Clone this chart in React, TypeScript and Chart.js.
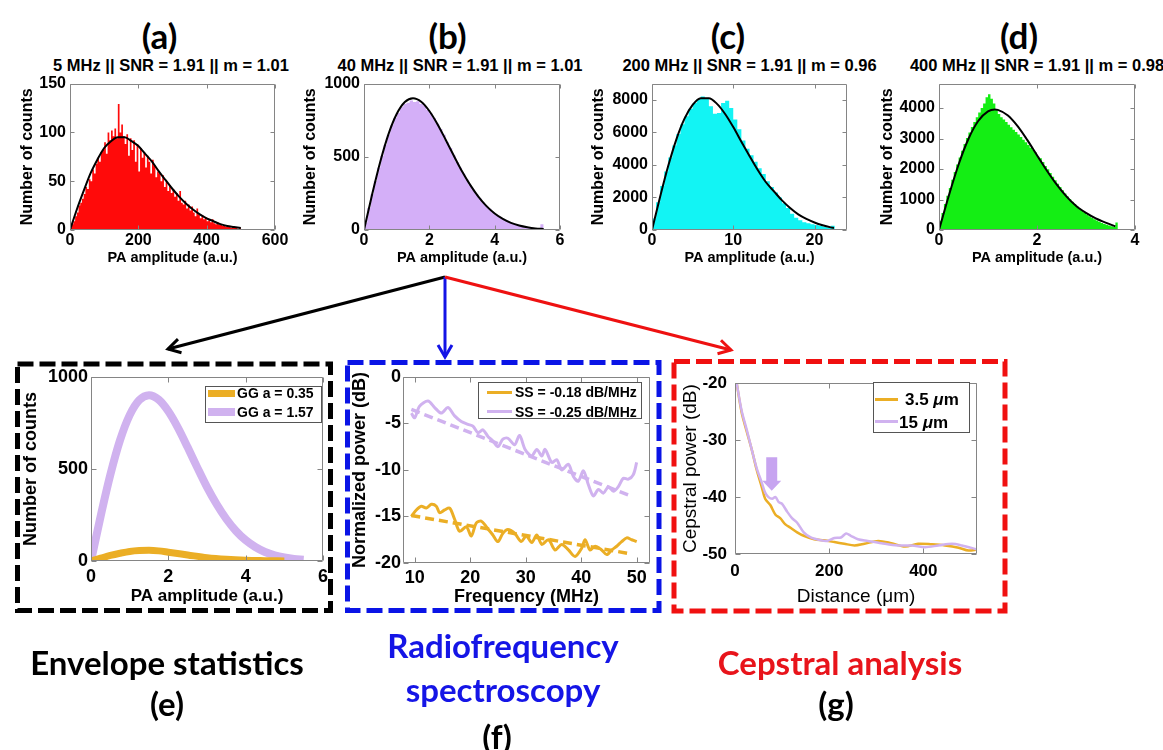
import React, { useEffect, useRef } from "react";
import { Chart, registerables } from "chart.js";

Chart.register(...registerables);

const SANS = '"Liberation Sans", Arial, Helvetica, sans-serif';
const DISPLAY = 'Lato, "Open Sans", "Noto Sans", sans-serif';
Chart.defaults.font.family = SANS;
Chart.defaults.color = "#000";

// ---------------- colours ----------------
const RED = "#FF0A0A";
const LAVENDER_HIST = "#D4AFF8";
const CYAN = "#12F4F4";
const GREEN = "#14EE14";
const ORANGE = "#EBAE25";
const PURPLE = "#D0B2EF";
const BOX_GREY = "#858585";

// ---------------- (a) 5 MHz ----------------
const A_BIN_START = 0;
const A_BIN_WIDTH = 5;
const A_COUNTS = [2, 6, 9, 14, 18, 25, 28, 32, 37, 44, 42, 52, 50, 62, 58, 68, 74, 70, 80, 82, 90, 78, 100, 92, 102, 96, 104, 94, 129, 100, 108, 96, 88, 98, 76, 94, 82, 92, 70, 88, 60, 84, 74, 80, 64, 76, 70, 58, 72, 66, 54, 60, 58, 50, 56, 44, 50, 40, 46, 38, 42, 34, 38, 30, 40, 28, 26, 30, 22, 26, 20, 24, 18, 14, 22, 16, 12, 15, 11, 13, 9, 10, 8, 11, 7, 6, 8, 5, 6, 4, 5, 3, 4, 3, 2, 3, 2, 2, 1, 2, 1, 1, 1, 1, 0];
const A_FIT_X = [0, 20, 40, 60, 80, 100, 120, 140, 160, 180, 200, 220, 240, 260, 280, 300, 320, 340, 360, 380, 400, 420, 440, 460, 480, 500];
const A_FIT_Y = [0, 21, 40, 58, 72, 84, 91, 95, 95, 91, 86, 78, 70, 60, 51, 42, 34, 27, 21, 16, 12, 9, 6, 4, 3, 2];
const A_X_TICKS = [0, 200, 400, 600];
const A_Y_TICKS = [0, 50, 100, 150];

// ---------------- (b) 40 MHz ----------------
const B_BIN_START = 0;
const B_BIN_WIDTH = 0.1;
const B_COUNTS = [50, 150, 245, 335, 425, 505, 580, 650, 715, 765, 800, 840, 860, 870, 885, 875, 880, 860, 850, 820, 795, 765, 725, 690, 650, 600, 560, 510, 465, 425, 385, 345, 305, 275, 245, 215, 188, 165, 145, 122, 105, 90, 76, 65, 55, 46, 38, 32, 26, 22, 18, 15, 12, 10, 40];
const B_FIT_X = [0, 0.25, 0.5, 0.75, 1, 1.25, 1.5, 1.75, 2, 2.25, 2.5, 2.75, 3, 3.25, 3.5, 3.75, 4, 4.25, 4.5, 4.75, 5, 5.25, 5.5];
const B_FIT_Y = [0, 244, 468, 655, 792, 874, 900, 876, 813, 723, 617, 507, 401, 308, 228, 163, 113, 76, 49, 31, 19, 11, 7];
const B_X_TICKS = [0, 2, 4, 6];
const B_Y_TICKS = [0, 500, 1000];

// ---------------- (c) 200 MHz ----------------
const C_BIN_START = 0;
const C_BIN_WIDTH = 0.5;
const C_COUNTS = [700, 1700, 2700, 3600, 4450, 5200, 5900, 6500, 7000, 7450, 7800, 8050, 8200, 8050, 7600, 7150, 7200, 7800, 7950, 7500, 6800, 6200, 5500, 5000, 4600, 4200, 3800, 3450, 3000, 2650, 2300, 2000, 1650, 1350, 1000, 750, 600, 480, 420, 360, 300, 250, 200, 160, 260];
const C_FIT_X = [0, 1, 2, 3, 4, 5, 6, 7, 8, 9, 10, 11, 12, 13, 14, 15, 16, 17, 18, 19, 20, 21, 22, 22.4];
const C_FIT_Y = [0, 2043, 3944, 5575, 6843, 7689, 8101, 8103, 7754, 7134, 6331, 5431, 4550, 3700, 2950, 2380, 1820, 1350, 960, 680, 460, 290, 160, 120];
const C_X_TICKS = [0, 10, 20];
const C_Y_TICKS = [0, 2000, 4000, 6000, 8000];

// ---------------- (d) 400 MHz ----------------
const D_BIN_START = 0;
const D_BIN_WIDTH = 0.05;
const D_COUNTS = [300, 560, 850, 1120, 1380, 1650, 1900, 2150, 2380, 2600, 2820, 3020, 3200, 3380, 3540, 3700, 3850, 4000, 4150, 4350, 4450, 4300, 4150, 3950, 3800, 3700, 3620, 3540, 3450, 3370, 3290, 3210, 3130, 3050, 2960, 2880, 2790, 2700, 2620, 2540, 2400, 2350, 2230, 2100, 1990, 1870, 1750, 1630, 1520, 1410, 1300, 1200, 1100, 1010, 930, 850, 770, 700, 630, 570, 510, 450, 400, 350, 310, 270, 230, 200, 170, 145, 120, 100, 250];
const D_FIT_X = [0, 0.2, 0.4, 0.6, 0.8, 1.0, 1.14, 1.2, 1.4, 1.6, 1.8, 2.0, 2.2, 2.4, 2.6, 2.8, 3.0, 3.2, 3.4, 3.6];
const D_FIT_Y = [0, 1125, 2149, 2984, 3573, 3888, 3950, 3939, 3762, 3414, 2956, 2453, 1953, 1495, 1102, 784, 560, 380, 240, 120];
const D_X_TICKS = [0, 2, 4];
const D_Y_TICKS = [0, 1000, 2000, 3000, 4000];

// ---------------- (e) envelope statistics ----------------
const E_LOW_X = [0, 0.25, 0.5, 0.75, 1, 1.25, 1.5, 1.75, 2, 2.5, 3, 3.5, 4, 4.5, 5];
const E_LOW_Y = [0, 15, 30, 42, 52, 57, 58, 55, 48, 33, 18, 9, 4, 2, 0.5];
const E_HIGH_X = B_FIT_X;
const E_HIGH_Y = B_FIT_Y;
const E_LABELS = ["GG a = 0.35", "GG a = 1.57"];
const E_X_TICKS = [0, 2, 4, 6];
const E_Y_TICKS = [0, 500, 1000];

// ---------------- (f) RF spectroscopy ----------------
const F_O_X = [9.4, 10.3, 11.2, 12.1, 13, 13.9, 14.5, 15.4, 16.3, 17.2, 18.1, 19.3, 20.2, 21.1, 22, 22.9, 24.1, 25, 25.9, 26.8, 28, 29.2, 30.1, 31.1, 32, 32.9, 34.1, 35.3, 36.5, 37.7, 38.9, 40.1, 40.7, 41.6, 42.5, 43.7, 44.6, 45.5, 46.4, 47.3, 48.2, 49.1, 50];
const F_O_Y = [-15, -14.3, -13.9, -14.1, -13.7, -13.9, -14.6, -14.3, -14.1, -15.3, -16.6, -16.1, -17.1, -15.7, -15.5, -16.1, -17, -17.7, -16.8, -16.4, -16.8, -17.7, -17.1, -17.8, -17, -18, -17.5, -18.6, -18, -18.6, -19.3, -18.4, -17.5, -18.6, -18.2, -18.6, -19.1, -18.6, -18.2, -17.7, -17.3, -17.5, -17.7];
const F_P_X = [9.4, 10, 10.9, 12.4, 13.6, 14.8, 16, 17.2, 18.4, 19.6, 20.5, 21.4, 22.3, 23.2, 24.1, 25, 25.9, 26.8, 28, 28.9, 29.9, 31.1, 32, 32.9, 33.5, 34.7, 35.6, 36.5, 37.7, 38.6, 39.5, 40.4, 41.3, 42.2, 43.1, 44, 44.9, 45.8, 46.7, 47.6, 48.5, 49.4, 50];
const F_P_Y = [-3.9, -4.4, -3.15, -2.6, -3.3, -3.9, -3.3, -4.2, -4.8, -5.1, -5.3, -6.0, -5.7, -6.4, -6.9, -7.5, -6.7, -6.6, -7.3, -6.3, -7.8, -8.5, -7.8, -8.5, -7.8, -9.2, -8.9, -10, -9.4, -10.7, -11.2, -10.1, -11.6, -12.8, -12.1, -12.5, -11.8, -12.3, -11.8, -10.9, -11, -10.5, -9.2];
const F_O_FIT_X = [9.4, 48.8];
const F_O_FIT_Y = [-14.9, -19.0];
const F_P_FIT_X = [9.4, 48.5];
const F_P_FIT_Y = [-3.5, -12.7];
const F_LABELS = ["SS = -0.18 dB/MHz", "SS = -0.25 dB/MHz"];
const F_X_TICKS = [10, 20, 30, 40, 50];
const F_Y_TICKS = [-20, -15, -10, -5, 0];

// ---------------- (g) cepstral analysis ----------------
const G_O_X = [3, 14, 25, 36, 46, 57, 64, 75, 86, 96, 107, 118, 132, 146, 168, 189, 211, 232, 254, 275, 304, 332, 361, 389, 418, 446, 475, 496, 514];
const G_O_Y = [-19.7, -25.1, -28.5, -31.8, -35.2, -38.3, -40.3, -41.4, -43.1, -43.7, -44.8, -45.4, -46.2, -46.8, -47.4, -47.6, -47.9, -48.2, -48.5, -48.2, -47.7, -48.1, -48.7, -48.2, -48.3, -48.5, -48.9, -49.4, -49.2];
const G_P_X = [3, 14, 25, 36, 46, 57, 64, 71, 79, 86, 93, 100, 111, 121, 132, 146, 161, 182, 196, 211, 225, 236, 246, 261, 282, 311, 346, 375, 404, 432, 461, 482, 514];
const G_P_Y = [-19.7, -24.8, -28.2, -31.8, -34.9, -37.5, -39.2, -40, -40.3, -40, -40.9, -41.2, -42.6, -43.7, -44.5, -46.2, -47.1, -47.6, -47.7, -47.2, -47.1, -46.4, -46.8, -47.4, -47.7, -48.1, -48.5, -48.5, -48.8, -48.5, -48.2, -48.5, -49.2];
const G_ARROW = { x: 78, from: -33, to: -38.9 };
const G_X_TICKS = [0, 200, 400];
const G_Y_TICKS = [-50, -40, -30, -20];

const TOP_TITLES = [
  "5 MHz || SNR = 1.91 || m = 1.01",
  "40 MHz || SNR = 1.91 || m = 1.01",
  "200 MHz || SNR = 1.91 || m = 0.96",
  "400 MHz || SNR = 1.91 || m = 0.98",
];

// ---------------- helpers ----------------
function pts(xs: number[], ys: number[]) {
  return xs.map((x, i) => ({ x, y: ys[i] }));
}
function histPts(start: number, width: number, counts: number[]) {
  const out = counts.map((c, i) => ({ x: start + i * width, y: c }));
  out.push({ x: start + counts.length * width, y: counts[counts.length - 1] });
  return out;
}
function histDataset(start: number, width: number, counts: number[], color: string) {
  return {
    data: histPts(start, width, counts),
    stepped: true,
    fill: "origin",
    backgroundColor: color,
    borderColor: color,
    borderWidth: 0,
    pointRadius: 0,
    order: 2,
  };
}
function fitDataset(xs: number[], ys: number[]) {
  return {
    data: pts(xs, ys),
    borderColor: "#000",
    borderWidth: 2,
    pointRadius: 0,
    fill: false,
    cubicInterpolationMode: "monotone",
    order: 1,
  };
}

function boxPlugin(color: string, len: number) {
  return {
    id: "matlabBox",
    afterDatasetsDraw(chart: any) {
      const { ctx, chartArea: a, scales } = chart;
      ctx.save();
      ctx.strokeStyle = color;
      ctx.lineWidth = 1;
      const l = Math.round(a.left) + 0.5;
      const r = Math.round(a.right) - 0.5;
      const t = Math.round(a.top) + 0.5;
      const b = Math.round(a.bottom) - 0.5;
      ctx.beginPath();
      ctx.rect(l, t, r - l, b - t);
      for (const tk of scales.x.ticks) {
        const px = Math.round(scales.x.getPixelForValue(tk.value)) + 0.5;
        ctx.moveTo(px, b);
        ctx.lineTo(px, b - len);
        ctx.moveTo(px, t);
        ctx.lineTo(px, t + len);
      }
      for (const tk of scales.y.ticks) {
        const py = Math.round(scales.y.getPixelForValue(tk.value)) + 0.5;
        ctx.moveTo(l, py);
        ctx.lineTo(l + len, py);
        ctx.moveTo(r, py);
        ctx.lineTo(r - len, py);
      }
      ctx.stroke();
      ctx.restore();
    },
  };
}

const arrowPlugin = {
  id: "gArrow",
  afterDatasetsDraw(chart: any) {
    const { ctx, scales } = chart;
    const px = scales.x.getPixelForValue(G_ARROW.x);
    const y0 = scales.y.getPixelForValue(G_ARROW.from);
    const y1 = scales.y.getPixelForValue(G_ARROW.to);
    const sw = 11;
    const hw = 19;
    const hh = 10;
    ctx.save();
    ctx.fillStyle = "#C7A4F0";
    ctx.beginPath();
    ctx.moveTo(px - sw / 2, y0);
    ctx.lineTo(px + sw / 2, y0);
    ctx.lineTo(px + sw / 2, y1 - hh);
    ctx.lineTo(px + hw / 2, y1 - hh);
    ctx.lineTo(px, y1);
    ctx.lineTo(px - hw / 2, y1 - hh);
    ctx.lineTo(px - sw / 2, y1 - hh);
    ctx.closePath();
    ctx.fill();
    ctx.restore();
  },
};

interface PanelSpec {
  plot: { L: number; T: number; R: number; B: number };
  yw: number;
  xh: number;
  pt?: number;
  pr?: number;
  xMin: number;
  xMax: number;
  yMin: number;
  yMax: number;
  xTicks: number[];
  yTicks: number[];
  tickSize: number;
  xPad: number;
  yPad: number;
  xTitle: string;
  yTitle: string;
  xTitleSize: number;
  yTitleSize: number;
  titleWeight: string;
  tickLen: number;
  datasets: any[];
  extra?: any[];
}

function geometry(p: PanelSpec) {
  const pt = p.pt ?? 12;
  const pr = p.pr ?? 16;
  return {
    left: p.plot.L - p.yw,
    top: p.plot.T - pt,
    width: p.plot.R - p.plot.L + p.yw + pr,
    height: p.plot.B - p.plot.T + pt + p.xh,
    pt,
    pr,
  };
}

function buildConfig(p: PanelSpec) {
  const g = geometry(p);
  const tickFont = { family: SANS, size: p.tickSize, weight: "bold" };
  const fmt = (v: any) => String(v);
  return {
    type: "line",
    data: { datasets: p.datasets },
    options: {
      responsive: false,
      maintainAspectRatio: false,
      animation: false,
      layout: { padding: { top: g.pt, right: g.pr, left: 0, bottom: 0 } },
      plugins: { legend: { display: false }, tooltip: { enabled: false }, title: { display: false } },
      elements: { point: { radius: 0 } },
      scales: {
        x: {
          type: "linear",
          min: p.xMin,
          max: p.xMax,
          afterBuildTicks: (s: any) => {
            s.ticks = p.xTicks.map((v) => ({ value: v }));
          },
          afterFit: (s: any) => {
            s.height = p.xh;
          },
          grid: { display: false, drawTicks: false },
          border: { display: false },
          ticks: { font: tickFont, color: "#000", padding: p.xPad, maxRotation: 0, autoSkip: false, callback: fmt },
          title: {
            display: true,
            text: p.xTitle,
            color: "#000",
            padding: 0,
            font: { family: SANS, size: p.xTitleSize, weight: p.titleWeight },
          },
        },
        y: {
          type: "linear",
          min: p.yMin,
          max: p.yMax,
          afterBuildTicks: (s: any) => {
            s.ticks = p.yTicks.map((v) => ({ value: v }));
          },
          afterFit: (s: any) => {
            s.width = p.yw;
          },
          grid: { display: false, drawTicks: false },
          border: { display: false },
          ticks: { font: tickFont, color: "#000", padding: p.yPad, autoSkip: false, callback: fmt },
          title: {
            display: true,
            text: p.yTitle,
            color: "#000",
            padding: 0,
            font: { family: SANS, size: p.yTitleSize, weight: p.titleWeight },
          },
        },
      },
    },
    plugins: [boxPlugin(BOX_GREY, p.tickLen), ...(p.extra ?? [])],
  };
}

function Panel({ spec }: { spec: PanelSpec }) {
  const ref = useRef<HTMLCanvasElement | null>(null);
  const g = geometry(spec);
  useEffect(() => {
    const chart = new Chart(ref.current as HTMLCanvasElement, buildConfig(spec) as any);
    return () => chart.destroy();
  }, []);
  return (
    <canvas
      ref={ref}
      width={g.width}
      height={g.height}
      style={{ position: "absolute", left: g.left, top: g.top, width: g.width, height: g.height }}
    />
  );
}

// ---------------- panel specs ----------------
const topCommon = {
  tickSize: 16,
  xPad: 1,
  yPad: 4,
  xTitle: "PA amplitude (a.u.)",
  yTitle: "Number of counts",
  xTitleSize: 14.5,
  yTitleSize: 16,
  titleWeight: "bold",
  tickLen: 4,
  xh: 37,
};

const SPEC_A: PanelSpec = {
  ...topCommon,
  plot: { L: 70, T: 82, R: 275, B: 230 },
  yw: 52,
  xMin: 0,
  xMax: 600,
  yMin: 0,
  yMax: 150,
  xTicks: A_X_TICKS,
  yTicks: A_Y_TICKS,
  datasets: [fitDataset(A_FIT_X, A_FIT_Y), histDataset(A_BIN_START, A_BIN_WIDTH, A_COUNTS, RED)],
};
const SPEC_B: PanelSpec = {
  ...topCommon,
  plot: { L: 364, T: 82, R: 560, B: 230 },
  yw: 63,
  xMin: 0,
  xMax: 6,
  yMin: 0,
  yMax: 1000,
  xTicks: B_X_TICKS,
  yTicks: B_Y_TICKS,
  datasets: [fitDataset(B_FIT_X, B_FIT_Y), histDataset(B_BIN_START, B_BIN_WIDTH, B_COUNTS, LAVENDER_HIST)],
};
const SPEC_C: PanelSpec = {
  ...topCommon,
  plot: { L: 652, T: 82, R: 847, B: 230 },
  yw: 63,
  xMin: 0,
  xMax: 24,
  yMin: 0,
  yMax: 9000,
  xTicks: C_X_TICKS,
  yTicks: C_Y_TICKS,
  datasets: [fitDataset(C_FIT_X, C_FIT_Y), histDataset(C_BIN_START, C_BIN_WIDTH, C_COUNTS, CYAN)],
};
const SPEC_D: PanelSpec = {
  ...topCommon,
  plot: { L: 939, T: 82, R: 1135, B: 230 },
  yw: 61,
  xMin: 0,
  xMax: 4,
  yMin: 0,
  yMax: 4800,
  xTicks: D_X_TICKS,
  yTicks: D_Y_TICKS,
  datasets: [fitDataset(D_FIT_X, D_FIT_Y), histDataset(D_BIN_START, D_BIN_WIDTH, D_COUNTS, GREEN)],
};

const SPEC_E: PanelSpec = {
  plot: { L: 91, T: 375, R: 323, B: 561 },
  yw: 71,
  xh: 46,
  xMin: 0,
  xMax: 6,
  yMin: 0,
  yMax: 1000,
  xTicks: E_X_TICKS,
  yTicks: E_Y_TICKS,
  tickSize: 18,
  xPad: 5,
  yPad: 3,
  xTitle: "PA amplitude (a.u.)",
  yTitle: "Number of counts",
  xTitleSize: 17,
  yTitleSize: 18,
  titleWeight: "bold",
  tickLen: 5,
  datasets: [
    { data: pts(E_LOW_X, E_LOW_Y), borderColor: ORANGE, borderWidth: 7, pointRadius: 0, cubicInterpolationMode: "monotone", fill: false },
    { data: pts(E_HIGH_X, E_HIGH_Y), borderColor: PURPLE, borderWidth: 8, pointRadius: 0, cubicInterpolationMode: "monotone", fill: false },
  ],
};

const SPEC_F: PanelSpec = {
  plot: { L: 403, T: 376, R: 650, B: 563 },
  yw: 54,
  xh: 45,
  xMin: 7.9,
  xMax: 52.4,
  yMin: -20,
  yMax: 0,
  xTicks: F_X_TICKS,
  yTicks: F_Y_TICKS,
  tickSize: 18,
  xPad: 4,
  yPad: 2,
  xTitle: "Frequency (MHz)",
  yTitle: "Normalized power (dB)",
  xTitleSize: 18,
  yTitleSize: 18,
  titleWeight: "bold",
  tickLen: 5,
  datasets: [
    { data: pts(F_O_FIT_X, F_O_FIT_Y), borderColor: ORANGE, borderWidth: 3.5, borderDash: [9, 5], pointRadius: 0, fill: false },
    { data: pts(F_P_FIT_X, F_P_FIT_Y), borderColor: PURPLE, borderWidth: 3.5, borderDash: [9, 5], pointRadius: 0, fill: false },
    { data: pts(F_O_X, F_O_Y), borderColor: ORANGE, borderWidth: 3, pointRadius: 0, tension: 0.3, fill: false },
    { data: pts(F_P_X, F_P_Y), borderColor: PURPLE, borderWidth: 3, pointRadius: 0, tension: 0.3, fill: false },
  ],
};

const SPEC_G: PanelSpec = {
  plot: { L: 735, T: 377, R: 977, B: 554 },
  yw: 56,
  xh: 54,
  xMin: 0,
  xMax: 514,
  yMin: -50,
  yMax: -20,
  xTicks: G_X_TICKS,
  yTicks: G_Y_TICKS,
  tickSize: 17,
  xPad: 7,
  yPad: 8,
  xTitle: "Distance (μm)",
  yTitle: "Cepstral power (dB)",
  xTitleSize: 19,
  yTitleSize: 19,
  titleWeight: "normal",
  tickLen: 5,
  datasets: [
    { data: pts(G_P_X, G_P_Y), borderColor: PURPLE, borderWidth: 2.5, pointRadius: 0, tension: 0.3, fill: false },
    { data: pts(G_O_X, G_O_Y), borderColor: ORANGE, borderWidth: 2.5, pointRadius: 0, tension: 0.3, fill: false },
  ],
  extra: [arrowPlugin],
};

// ---------------- overlay helpers ----------------
function Txt({ x, y, size, color = "#000", font = SANS, weight = 700, children }: any) {
  return (
    <div
      style={{
        position: "absolute",
        left: x,
        top: y,
        transform: "translate(-50%, -50%)",
        fontFamily: font,
        fontSize: size,
        fontWeight: weight,
        color,
        whiteSpace: "nowrap",
        lineHeight: 1,
      }}
    >
      {children}
    </div>
  );
}

function head(x0: number, y0: number, x1: number, y1: number, len = 14, deg = 30) {
  const a = Math.atan2(y1 - y0, x1 - x0);
  const t = (deg * Math.PI) / 180;
  return `${x1 - len * Math.cos(a - t)},${y1 - len * Math.sin(a - t)} ${x1},${y1} ${x1 - len * Math.cos(a + t)},${y1 - len * Math.sin(a + t)}`;
}

function LegendBox({ left, top, width, height, items, size, sampleLeft, sampleW, textLefts }: any) {
  return (
    <>
      <div
        style={{
          position: "absolute",
          left,
          top,
          width,
          height,
          border: "1px solid #555",
          background: "#fff",
          boxSizing: "border-box",
        }}
      />
      {items.map((it: any, i: number) => (
        <React.Fragment key={i}>
          <div
            style={{
              position: "absolute",
              left: sampleLeft,
              top: it.y - it.thick / 2,
              width: sampleW,
              height: it.thick,
              background: it.color,
            }}
          />
          <div
            style={{
              position: "absolute",
              left: textLefts[i],
              top: it.y,
              transform: "translateY(-50%)",
              fontFamily: SANS,
              fontWeight: 700,
              fontSize: size,
              lineHeight: 1,
              whiteSpace: "nowrap",
            }}
          >
            {it.label}
          </div>
        </React.Fragment>
      ))}
    </>
  );
}

export default function App() {
  const origin = { x: 445, y: 277 };
  const arrows = [
    { x: 168, y: 349, c: "#000" },
    { x: 445, y: 357, c: "#1414E6" },
    { x: 731, y: 350, c: "#EE1111" },
  ];
  return (
    <div
      style={{
        position: "absolute",
        left: 0,
        top: 0,
        width: 1163,
        height: 750,
        overflow: "hidden",
        background: "#fff",
      }}
    >
      {/* panel letters and titles */}
      <Txt x={159.5} y={35} size={35} font={DISPLAY}>(a)</Txt>
      <Txt x={447.5} y={35} size={35} font={DISPLAY}>(b)</Txt>
      <Txt x={728} y={35} size={35} font={DISPLAY}>(c)</Txt>
      <Txt x={1019} y={35} size={35} font={DISPLAY}>(d)</Txt>
      <Txt x={171} y={65} size={16.5}>{TOP_TITLES[0]}</Txt>
      <Txt x={460} y={65} size={16.5}>{TOP_TITLES[1]}</Txt>
      <Txt x={749.5} y={65} size={16.5}>{TOP_TITLES[2]}</Txt>
      <Txt x={1037} y={65} size={16.5}>{TOP_TITLES[3]}</Txt>

      <Panel spec={SPEC_A} />
      <Panel spec={SPEC_B} />
      <Panel spec={SPEC_C} />
      <Panel spec={SPEC_D} />
      <Panel spec={SPEC_E} />
      <Panel spec={SPEC_F} />
      <Panel spec={SPEC_G} />

      <svg width={1163} height={750} style={{ position: "absolute", left: 0, top: 0, pointerEvents: "none" }}>
        {arrows.map((a, i) => (
          <g key={i} stroke={a.c} strokeWidth={3} fill="none">
            <line x1={origin.x} y1={origin.y} x2={a.x} y2={a.y} />
            <polyline points={head(origin.x, origin.y, a.x, a.y)} strokeLinejoin="miter" />
          </g>
        ))}
        <rect x={17.5} y={364} width={313} height={246.5} fill="none" stroke="#000" strokeWidth={5} strokeDasharray="16 6" />
        <rect x={347.5} y={362.5} width={311.5} height={248} fill="none" stroke="#0A14E6" strokeWidth={5} strokeDasharray="16 6" />
        <rect x={674} y={361.5} width={331} height={249.5} fill="none" stroke="#F01010" strokeWidth={5} strokeDasharray="16 6" />
      </svg>

      <LegendBox
        left={205}
        top={386}
        width={117}
        height={37}
        size={14}
        sampleLeft={208}
        sampleW={27}
        textLefts={[237, 237]}
        items={[
          { y: 393, color: ORANGE, thick: 7, label: E_LABELS[0] },
          { y: 412, color: PURPLE, thick: 8, label: E_LABELS[1] },
        ]}
      />
      <LegendBox
        left={478}
        top={382}
        width={164}
        height={37}
        size={14}
        sampleLeft={487}
        sampleW={25}
        textLefts={[515, 515]}
        items={[
          { y: 392, color: ORANGE, thick: 3, label: F_LABELS[0] },
          { y: 411.5, color: PURPLE, thick: 3, label: F_LABELS[1] },
        ]}
      />
      <LegendBox
        left={873}
        top={382}
        width={97}
        height={51}
        size={17}
        sampleLeft={875}
        sampleW={23}
        textLefts={[905, 899]}
        items={[
          { y: 399, color: ORANGE, thick: 3, label: <span>3.5 <i>μ</i>m</span> },
          { y: 421.5, color: PURPLE, thick: 3, label: <span>15 <i>μ</i>m</span> },
        ]}
      />

      <Txt x={167} y={662} size={33} font={DISPLAY}>Envelope statistics</Txt>
      <Txt x={167} y={703} size={33} font={DISPLAY}>(e)</Txt>
      <Txt x={503} y={645} size={33} font={DISPLAY} color="#1515E6">Radiofrequency</Txt>
      <Txt x={503} y={689} size={33} font={DISPLAY} color="#1515E6">spectroscopy</Txt>
      <Txt x={497} y={736} size={33} font={DISPLAY}>(f)</Txt>
      <Txt x={840} y={662} size={33} font={DISPLAY} color="#E8141B">Cepstral analysis</Txt>
      <Txt x={836} y={703} size={33} font={DISPLAY}>(g)</Txt>
    </div>
  );
}
